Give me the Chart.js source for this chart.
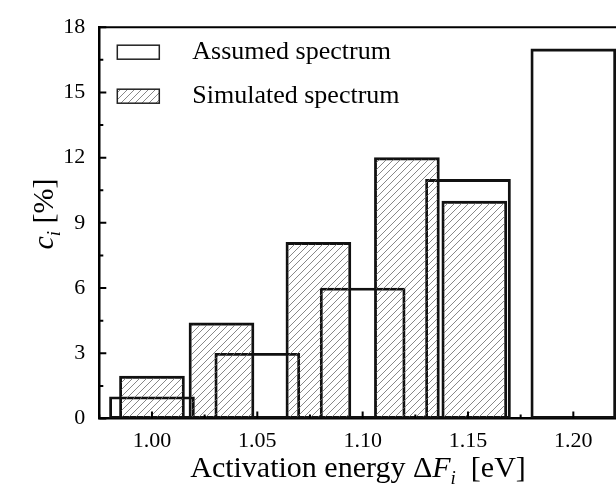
<!DOCTYPE html>
<html lang="en">
<head>
    <meta charset="UTF-8">
    <title>Activation energy spectrum</title>
    <script src="https://cdn.jsdelivr.net/npm/chart.js"></script>
    <style>
        html, body { margin: 0; padding: 0; background: #fff; overflow: hidden; }
        #wrap { width: 632px; height: 492px; }
    </style>
</head>
<body>
    <div id="wrap"><canvas id="grafica" width="632" height="492"></canvas></div>

    <script>
        // assumed spectrum (open bars)
        const assumedEnergy = [1.00, 1.05, 1.10, 1.15, 1.20];
        const assumedValues = [1, 3, 6, 11, 17];
        // simulated spectrum (hatched bars)
        const simulatedEnergy = [1.000, 1.033, 1.079, 1.121, 1.153];
        const simulatedValues = [1.95, 4.4, 8.1, 12, 10];
        const seriesNames = ['Assumed spectrum', 'Simulated spectrum'];
        const xTicks = [1.00, 1.05, 1.10, 1.15, 1.20];
        const yTicks = [0, 3, 6, 9, 12, 15, 18];

        const serif = "'Liberation Serif', 'Times New Roman', serif";
        const canvas = document.getElementById('grafica');
        const ctx = canvas.getContext('2d');

        function rayado(size) {
            const c = document.createElement('canvas');
            c.width = size; c.height = size;
            const g = c.getContext('2d');
            g.strokeStyle = '#6a6a6a';
            g.lineWidth = 0.8;
            g.beginPath();
            g.moveTo(0, size); g.lineTo(size, 0);
            g.moveTo(-2, 2); g.lineTo(2, -2);
            g.moveTo(size - 2, size + 2); g.lineTo(size + 2, size - 2);
            g.stroke();
            return ctx.createPattern(c, 'repeat');
        }
        const hatch = rayado(7);

        // frame, inward ticks, axis titles and legend
        const extras = {
            id: 'extras',
            afterDraw(chart) {
                const { ctx, chartArea: a, scales: { x, y } } = chart;
                ctx.save();
                ctx.strokeStyle = '#000';
                ctx.lineWidth = 2;
                ctx.beginPath();
                ctx.moveTo(a.left - 1, a.top); ctx.lineTo(a.right, a.top);
                ctx.moveTo(a.right, a.top); ctx.lineTo(a.right, a.bottom);
                ctx.stroke();

                ctx.beginPath();
                for (let v = x.min; v <= x.max + 1e-9; v += 0.025) {
                    const px = x.getPixelForValue(v);
                    const major = Math.abs(Math.round(v / 0.05) * 0.05 - v) < 1e-6;
                    ctx.moveTo(px, a.bottom); ctx.lineTo(px, a.bottom - (major ? 7 : 4));
                }
                for (let v = y.min; v <= y.max + 1e-9; v += 1.5) {
                    const py = y.getPixelForValue(v);
                    const major = Math.abs(v % 3) < 1e-6;
                    ctx.moveTo(a.left, py); ctx.lineTo(a.left + (major ? 7 : 4), py);
                }
                ctx.stroke();

                // x title with italic symbol
                ctx.fillStyle = '#000';
                ctx.textBaseline = 'alphabetic';
                const parts = [
                    ['Activation energy \u0394', '30px ' + serif, 0],
                    ['F', 'italic 30px ' + serif, 0],
                    ['i', 'italic 19px ' + serif, 7],
                    ['  [eV]', '30px ' + serif, 0]
                ];
                let total = 0;
                parts.forEach(p => { ctx.font = p[1]; total += ctx.measureText(p[0]).width; });
                let tx = 358 - total / 2;
                parts.forEach(p => {
                    ctx.font = p[1];
                    ctx.fillText(p[0], tx, 477 + p[2]);
                    tx += ctx.measureText(p[0]).width;
                });

                // y title
                ctx.save();
                ctx.translate(53, 214);
                ctx.rotate(-Math.PI / 2);
                const yparts = [
                    ['c', 'italic 30px ' + serif, 0],
                    ['i', 'italic 19px ' + serif, 7],
                    [' [%]', '30px ' + serif, 0]
                ];
                let yt = 0;
                yparts.forEach(p => { ctx.font = p[1]; yt += ctx.measureText(p[0]).width; });
                let ty = -yt / 2;
                yparts.forEach(p => {
                    ctx.font = p[1];
                    ctx.fillText(p[0], ty, p[2]);
                    ty += ctx.measureText(p[0]).width;
                });
                ctx.restore();

                // legend
                const lx = a.left + 18;
                chart.data.datasets.forEach((ds, i) => {
                    const ly = a.top + 18 + i * 44;
                    ctx.fillStyle = i === 1 ? hatch : '#fff';
                    ctx.fillRect(lx, ly, 42, 14);
                    ctx.strokeStyle = '#222';
                    ctx.lineWidth = 1.5;
                    ctx.strokeRect(lx, ly, 42, 14);
                    ctx.fillStyle = '#000';
                    ctx.font = '26px ' + serif;
                    ctx.textBaseline = 'alphabetic';
                    ctx.fillText(ds.label, lx + 75, ly + 14);
                });
                ctx.restore();
            }
        };

        new Chart(ctx, {
            type: 'bar',
            data: {
                datasets: [{
                    label: seriesNames[0],
                    data: assumedEnergy.map((e, i) => ({ x: e, y: assumedValues[i] })),
                    backgroundColor: 'rgba(0,0,0,0)',
                    borderColor: '#111',
                    borderWidth: 2.2,
                    borderSkipped: false,
                    barThickness: 85,
                    grouped: false,
                    order: 1
                }, {
                    label: seriesNames[1],
                    data: simulatedEnergy.map((e, i) => ({ x: e, y: simulatedValues[i] })),
                    backgroundColor: hatch,
                    borderColor: '#111',
                    borderWidth: 2.2,
                    borderSkipped: false,
                    barThickness: 65,
                    grouped: false,
                    order: 0
                }]
            },
            options: {
                responsive: false,
                animation: false,
                layout: { padding: { top: 23.5, right: 6, left: 0, bottom: 0 } },
                plugins: { legend: { display: false }, tooltip: { enabled: false } },
                scales: {
                    x: {
                        type: 'linear',
                        min: 0.975,
                        max: 1.225,
                        offset: false,
                        afterBuildTicks: s => { s.ticks = xTicks.map(v => ({ value: v })); },
                        afterFit: s => { s.height = 73.5; },
                        ticks: {
                            color: '#000',
                            font: { family: serif, size: 22 },
                            padding: 10,
                            maxRotation: 0,
                            callback: v => v.toFixed(2)
                        },
                        grid: { display: false, drawTicks: false },
                        border: { display: true, color: '#000', width: 2.5 }
                    },
                    y: {
                        min: 0,
                        max: 18,
                        afterBuildTicks: s => { s.ticks = yTicks.map(v => ({ value: v })); },
                        afterFit: s => { s.width = 99.3; },
                        ticks: {
                            color: '#000',
                            font: { family: serif, size: 22 },
                            padding: 14
                        },
                        grid: { display: false, drawTicks: false },
                        border: { display: true, color: '#000', width: 2.5 }
                    }
                }
            },
            plugins: [extras]
        });
    </script>
</body>
</html>
